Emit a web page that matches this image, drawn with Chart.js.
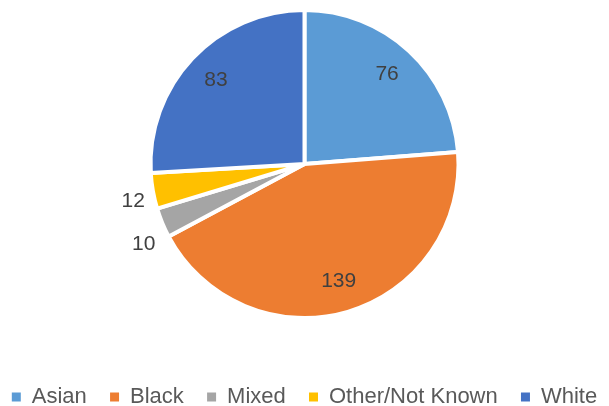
<!DOCTYPE html>
<html><head><meta charset="utf-8">
<script src="https://cdn.jsdelivr.net/npm/chart.js@4"></script>
<style>html,body{margin:0;padding:0;background:#fff}#wrap{width:609px;height:406px;position:relative}</style>
</head><body><div id="wrap"><canvas id="c" width="609" height="406"></canvas></div>
<script>
const categories = ["Asian", "Black", "Mixed", "Other/Not Known", "White"];
const values = [76, 139, 10, 12, 83];
const colors = ["#5B9BD5", "#ED7D31", "#A5A5A5", "#FFC000", "#4472C4"];

const FONT = '"Liberation Sans", Arial, sans-serif';

const areaPlugin = {
  id: 'pieArea',
  afterLayout(chart) {
    const a = chart.chartArea;
    a.top = 8; a.bottom = 320; a.height = 312;
  }
};

const labelPlugin = {
  id: 'sliceLabels',
  afterDatasetsDraw(chart) {
    const ctx = chart.ctx;
    const meta = chart.getDatasetMeta(0);
    const total = values.reduce((a, b) => a + b, 0);
    ctx.save();
    ctx.font = '21px ' + FONT;
    ctx.fillStyle = '#404040';
    ctx.textBaseline = 'middle';
    ctx.textAlign = 'center';
    meta.data.forEach((arc, i) => {
      const p = arc.getProps(['x', 'y', 'startAngle', 'endAngle', 'outerRadius'], true);
      const mid = (p.startAngle + p.endAngle) / 2;
      const txt = String(values[i]);
      if (values[i] / total > 0.1) {
        const r = p.outerRadius * 0.79;
        ctx.fillText(txt, p.x + Math.cos(mid) * r, p.y + Math.sin(mid) * r);
      } else {
        const r = p.outerRadius + 20;
        ctx.fillText(txt, p.x + Math.cos(mid) * r, p.y + Math.sin(mid) * r * 1.2);
      }
    });
    ctx.restore();
  }
};

new Chart(document.getElementById('c'), {
  type: 'pie',
  data: {
    labels: categories,
    datasets: [{ data: values, backgroundColor: colors, borderColor: '#ffffff', borderWidth: 4 }]
  },
  options: {
    responsive: false,
    animation: false,
    layout: { padding: 0 },
    plugins: {
      tooltip: { enabled: false },
      legend: {
        position: 'bottom',
        maxHeight: 31,
        labels: {
          font: { size: 22, family: FONT },
          color: '#595959',
          boxWidth: 9, boxHeight: 9,
          padding: 11,
          generateLabels(chart) {
            const items = Chart.overrides.pie.plugins.legend.labels.generateLabels(chart);
            items.forEach((it, i) => {
              it.lineWidth = 0;
              it.strokeStyle = 'rgba(0,0,0,0)';
              if (i < items.length - 1) it.text = it.text + '  ';
            });
            return items;
          }
        }
      }
    }
  },
  plugins: [areaPlugin, labelPlugin]
});
</script></body></html>
